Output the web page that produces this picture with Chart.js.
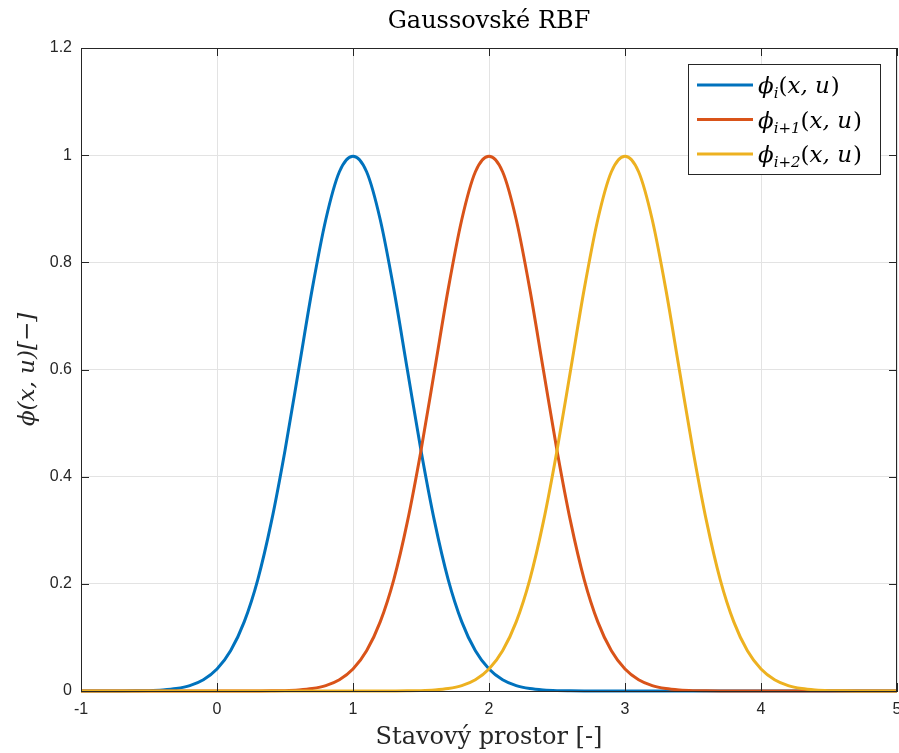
<!DOCTYPE html>
<html>
<head>
<meta charset="utf-8">
<script src="https://cdn.jsdelivr.net/npm/chart.js@4.4.1/dist/chart.umd.min.js"></script>
<style>
  body { margin: 0; background: #fff; }
  canvas { display: block; }
</style>
</head>
<body>
<canvas id="rbf" width="899" height="753"></canvas>
<script>
// stavovy prostor, krok 0.1
const stavy = [
  -1.0, -0.9, -0.8, -0.7, -0.6, -0.5, -0.4, -0.3, -0.2, -0.1,
   0.0,  0.1,  0.2,  0.3,  0.4,  0.5,  0.6,  0.7,  0.8,  0.9,
   1.0,  1.1,  1.2,  1.3,  1.4,  1.5,  1.6,  1.7,  1.8,  1.9,
   2.0,  2.1,  2.2,  2.3,  2.4,  2.5,  2.6,  2.7,  2.8,  2.9,
   3.0,  3.1,  3.2,  3.3,  3.4,  3.5,  3.6,  3.7,  3.8,  3.9,
   4.0,  4.1,  4.2,  4.3,  4.4,  4.5,  4.6,  4.7,  4.8,  4.9,
   5.0
];

// odectene hodnoty z obrazku
const phiI = [
  0, 0, 0, 0.0001, 0.0003, 0.0007, 0.0019, 0.0045, 0.010, 0.021,
  0.041, 0.075, 0.129, 0.208, 0.316, 0.449, 0.599, 0.750, 0.880, 0.969,
  0.998, 0.969, 0.880, 0.750, 0.599, 0.449, 0.316, 0.208, 0.129, 0.075,
  0.041, 0.021, 0.010, 0.0045, 0.0019, 0.0007, 0.0003, 0.0001, 0, 0,
  0, 0, 0, 0, 0, 0, 0, 0, 0, 0,
  0, 0, 0, 0, 0, 0, 0, 0, 0, 0,
  0
];
const phiI1 = [
  0, 0, 0, 0, 0, 0, 0, 0, 0, 0,
  0, 0, 0, 0.0001, 0.0003, 0.0007, 0.0019, 0.0045, 0.010, 0.021,
  0.041, 0.075, 0.129, 0.208, 0.316, 0.449, 0.599, 0.750, 0.880, 0.969,
  0.998, 0.969, 0.880, 0.750, 0.599, 0.449, 0.316, 0.208, 0.129, 0.075,
  0.041, 0.021, 0.010, 0.0045, 0.0019, 0.0007, 0.0003, 0.0001, 0, 0,
  0, 0, 0, 0, 0, 0, 0, 0, 0, 0,
  0
];
const phiI2 = [
  0, 0, 0, 0, 0, 0, 0, 0, 0, 0,
  0, 0, 0, 0, 0, 0, 0, 0, 0, 0,
  0, 0, 0, 0.0001, 0.0003, 0.0007, 0.0019, 0.0045, 0.010, 0.021,
  0.041, 0.075, 0.129, 0.208, 0.316, 0.449, 0.599, 0.750, 0.880, 0.969,
  0.998, 0.969, 0.880, 0.750, 0.599, 0.449, 0.316, 0.208, 0.129, 0.075,
  0.041, 0.021, 0.010, 0.0045, 0.0019, 0.0007, 0.0003, 0.0001, 0, 0,
  0
];

const xTicks = [-1, 0, 1, 2, 3, 4, 5];
const yTicks = [0, 0.2, 0.4, 0.6, 0.8, 1, 1.2];
const barvy = ['#0072BD', '#D95319', '#EDB120'];
const subskripty = ['i', 'i+1', 'i+2'];
const nadpis = 'Gaussovské RBF';

const AX = '#262626';
const SERIF = '"DejaVu Serif", "Liberation Serif", serif';
const SANS = '"Liberation Sans", Arial, sans-serif';

function body(vals) {
  return stavy.map((x, i) => ({ x: x, y: vals[i] }));
}

// nadpis nad osami, ramecek, ticky dovnitr a legenda
const matlabAxes = {
  id: 'matlabAxes',
  afterDraw(chart) {
    const ctx = chart.ctx;
    const a = chart.chartArea;
    const xs = chart.scales.x, ys = chart.scales.y;
    ctx.save();

    ctx.fillStyle = '#000';
    ctx.font = '24px ' + SERIF;
    ctx.textAlign = 'center';
    ctx.textBaseline = 'middle';
    ctx.fillText(nadpis, (a.left + a.right) / 2, 22);
    ctx.textAlign = 'left';

    ctx.strokeStyle = AX;
    ctx.lineWidth = 1;
    ctx.beginPath();
    xTicks.forEach(v => {
      const px = Math.round(xs.getPixelForValue(v)) + 0.5;
      ctx.moveTo(px, a.bottom); ctx.lineTo(px, a.bottom - 8);
      ctx.moveTo(px, a.top); ctx.lineTo(px, a.top + 8);
    });
    yTicks.forEach(v => {
      const py = Math.round(ys.getPixelForValue(v)) + 0.5;
      ctx.moveTo(a.left, py); ctx.lineTo(a.left + 8, py);
      ctx.moveTo(a.right, py); ctx.lineTo(a.right - 8, py);
    });
    ctx.stroke();
    ctx.strokeRect(Math.round(a.left) + 0.5, Math.round(a.top) + 0.5,
      Math.round(a.right - a.left) - 1, Math.round(a.bottom - a.top));

    // legenda
    const lx = a.right - 209, ly = a.top + 16, lw = 192, lh = 110;
    ctx.fillStyle = '#fff';
    ctx.fillRect(lx, ly, lw, lh);
    ctx.strokeStyle = AX;
    ctx.strokeRect(lx + 0.5, ly + 0.5, lw, lh);
    const velky = 'italic 23px ' + SERIF;
    const maly = 'italic 15px ' + SERIF;
    const rovny = '23px ' + SERIF;
    chart.data.datasets.forEach((ds, i) => {
      const cy = ly + 21 + i * 34.5;
      ctx.strokeStyle = ds.borderColor;
      ctx.lineWidth = 3;
      ctx.beginPath();
      ctx.moveTo(lx + 9, cy); ctx.lineTo(lx + 65, cy);
      ctx.stroke();
      const casti = [
        { t: '\u03D5', f: velky, dy: 0 },
        { t: subskripty[i], f: maly, dy: 5 },
        { t: '(', f: rovny, dy: 0 },
        { t: 'x, u', f: velky, dy: 0 },
        { t: ')', f: rovny, dy: 0 }
      ];
      let tx = lx + 70;
      ctx.fillStyle = '#000';
      ctx.textBaseline = 'alphabetic';
      casti.forEach(c => {
        ctx.font = c.f;
        ctx.fillText(c.t, tx, cy + 8 + c.dy);
        tx += ctx.measureText(c.t).width + (c.t === 'x, u' ? 1 : 0);
      });
    });
    ctx.restore();
  }
};

new Chart(document.getElementById('rbf'), {
  type: 'line',
  data: {
    datasets: [
      { label: '\u03D5_i(x,u)', data: body(phiI), borderColor: barvy[0], order: 2 },
      { label: '\u03D5_{i+1}(x,u)', data: body(phiI1), borderColor: barvy[1], order: 1 },
      { label: '\u03D5_{i+2}(x,u)', data: body(phiI2), borderColor: barvy[2], order: 0 }
    ].map(ds => Object.assign(ds, {
      borderWidth: 3,
      pointRadius: 0,
      fill: false,
      cubicInterpolationMode: 'monotone',
      clip: false
    }))
  },
  options: {
    responsive: false,
    animation: false,
    layout: { padding: { left: 0, right: 2, top: 48, bottom: 0 } },
    plugins: {
      legend: { display: false },
      tooltip: { enabled: false },
      title: { display: false }
    },
    scales: {
      x: {
        type: 'linear',
        min: -1, max: 5,
        afterFit: s => { s.height = 62; s.paddingLeft = 0; s.paddingRight = 0; },
        afterBuildTicks: s => { s.ticks = xTicks.map(v => ({ value: v })); },
        ticks: { color: AX, font: { family: SANS, size: 16 }, padding: 9, maxRotation: 0 },
        grid: { color: '#e3e3e3', drawTicks: false, tickLength: 0 },
        border: { color: AX },
        title: {
          display: true,
          text: 'Stavový prostor [-]',
          color: '#262626',
          font: { family: SERIF, size: 24 },
          padding: { top: 0, bottom: 1 }
        }
      },
      y: {
        min: 0, max: 1.2,
        afterFit: s => { s.width = 81; s.paddingTop = 0; s.paddingBottom = 0; },
        afterBuildTicks: s => { s.ticks = yTicks.map(v => ({ value: v })); },
        ticks: {
          color: AX,
          font: { family: SANS, size: 16 },
          padding: 9,
          callback: v => String(+v.toFixed(1))
        },
        grid: { color: '#e3e3e3', drawTicks: false, tickLength: 0 },
        border: { color: AX },
        title: {
          display: true,
          text: '\u03D5(x, u)[\u2212]',
          color: '#262626',
          font: { family: SERIF, size: 23, style: 'italic' },
          padding: { top: 14, bottom: 0 }
        }
      }
    }
  },
  plugins: [matlabAxes]
});
</script>
</body>
</html>
